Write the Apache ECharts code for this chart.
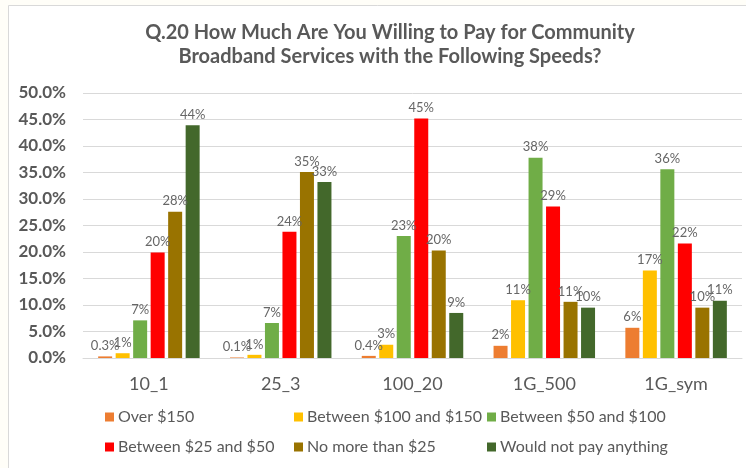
<!DOCTYPE html>
<html>
<head>
<meta charset="utf-8">
<script src="https://cdn.jsdelivr.net/npm/echarts@6/dist/echarts.min.js"></script>
<style>
html,body{margin:0;padding:0;background:#fffef8;}
#c{width:746px;height:468px;}
</style>
</head>
<body>
<div id="c"></div>
<script>
var categories = ['10_1', '25_3', '100_20', '1G_500', '1G_sym'];
var seriesNames = ['Over $150', 'Between $100 and $150', 'Between $50 and $100', 'Between $25 and $50', 'No more than $25', 'Would not pay anything'];
var over150 = [0.3, 0.1, 0.4, 2.3, 5.7];
var b100to150 = [0.9, 0.6, 2.5, 10.9, 16.5];
var b50to100 = [7.1, 6.6, 23.0, 37.8, 35.6];
var b25to50 = [19.9, 23.8, 45.2, 28.6, 21.6];
var noMore25 = [27.6, 35.1, 20.3, 10.6, 9.5];
var notPay = [43.9, 33.2, 8.5, 9.5, 10.8];
var yTicks = [0, 5, 10, 15, 20, 25, 30, 35, 40, 45, 50];

var values = [over150, b100to150, b50to100, b25to50, noMore25, notPay];
var colors = ['#ED7D31', '#FFC000', '#70AD47', '#FF0000', '#997300', '#43682B'];
var FONT = 'Lato';
var TXT = '#595959';

function fmt(v) {
  return v < 0.5 ? v.toFixed(1) + '%' : Math.round(v) + '%';
}

var series = seriesNames.map(function (n, i) {
  return {
    name: n,
    type: 'bar',
    data: values[i],
    barWidth: 14,
    barGap: '25%',
    itemStyle: { color: colors[i] },
    label: {
      show: true,
      position: 'top',
      distance: 4,
      color: '#666',
      fontFamily: FONT,
      fontSize: 13,
      formatter: function (p) { return fmt(p.value); }
    }
  };
});

var legendPos = [[105, 409], [294, 409], [487, 409], [105, 439], [294, 439], [487, 439]];
var legends = seriesNames.map(function (n, i) {
  return {
    data: [n],
    left: legendPos[i][0],
    top: legendPos[i][1],
    itemWidth: 9,
    itemHeight: 9,
    icon: 'rect',
    itemGap: 4,
    padding: 0,
    textStyle: { color: TXT, fontFamily: FONT, fontSize: 16, padding: [0, 0, 0, -1] }
  };
});

var chart = echarts.init(document.getElementById('c'));
chart.setOption({
  backgroundColor: '#fffef8',
  animation: false,
  graphic: [{
    type: 'rect',
    z: -10,
    shape: { x: 8.5, y: 5.5, width: 760, height: 480 },
    style: { fill: '#ffffff', stroke: '#d9d9d9', lineWidth: 1 }
  }],
  title: {
    text: 'Q.20 How Much Are You Willing to Pay for Community\nBroadband Services with the Following Speeds?',
    left: 385,
    textAlign: 'center',
    top: 16,
    textStyle: { color: TXT, fontFamily: FONT, fontSize: 20, fontWeight: 'bold', lineHeight: 24 }
  },
  legend: legends,
  grid: { left: 83, right: 4, top: 93, bottom: 110, containLabel: false },
  xAxis: {
    type: 'category',
    data: categories,
    axisLine: { lineStyle: { color: '#d9d9d9' } },
    axisTick: { show: false },
    axisLabel: { color: TXT, fontFamily: FONT, fontSize: 18, margin: 17 }
  },
  yAxis: {
    type: 'value',
    min: yTicks[0],
    max: yTicks[yTicks.length - 1],
    interval: yTicks[1] - yTicks[0],
    axisLine: { show: false },
    axisTick: { show: false },
    splitLine: { lineStyle: { color: '#d9d9d9', width: 1 } },
    axisLabel: {
      color: TXT, fontFamily: FONT, fontSize: 17, fontWeight: 'bold', margin: 17,
      formatter: function (v) { return v.toFixed(1) + '%'; }
    }
  },
  series: series
});
</script>
</body>
</html>
